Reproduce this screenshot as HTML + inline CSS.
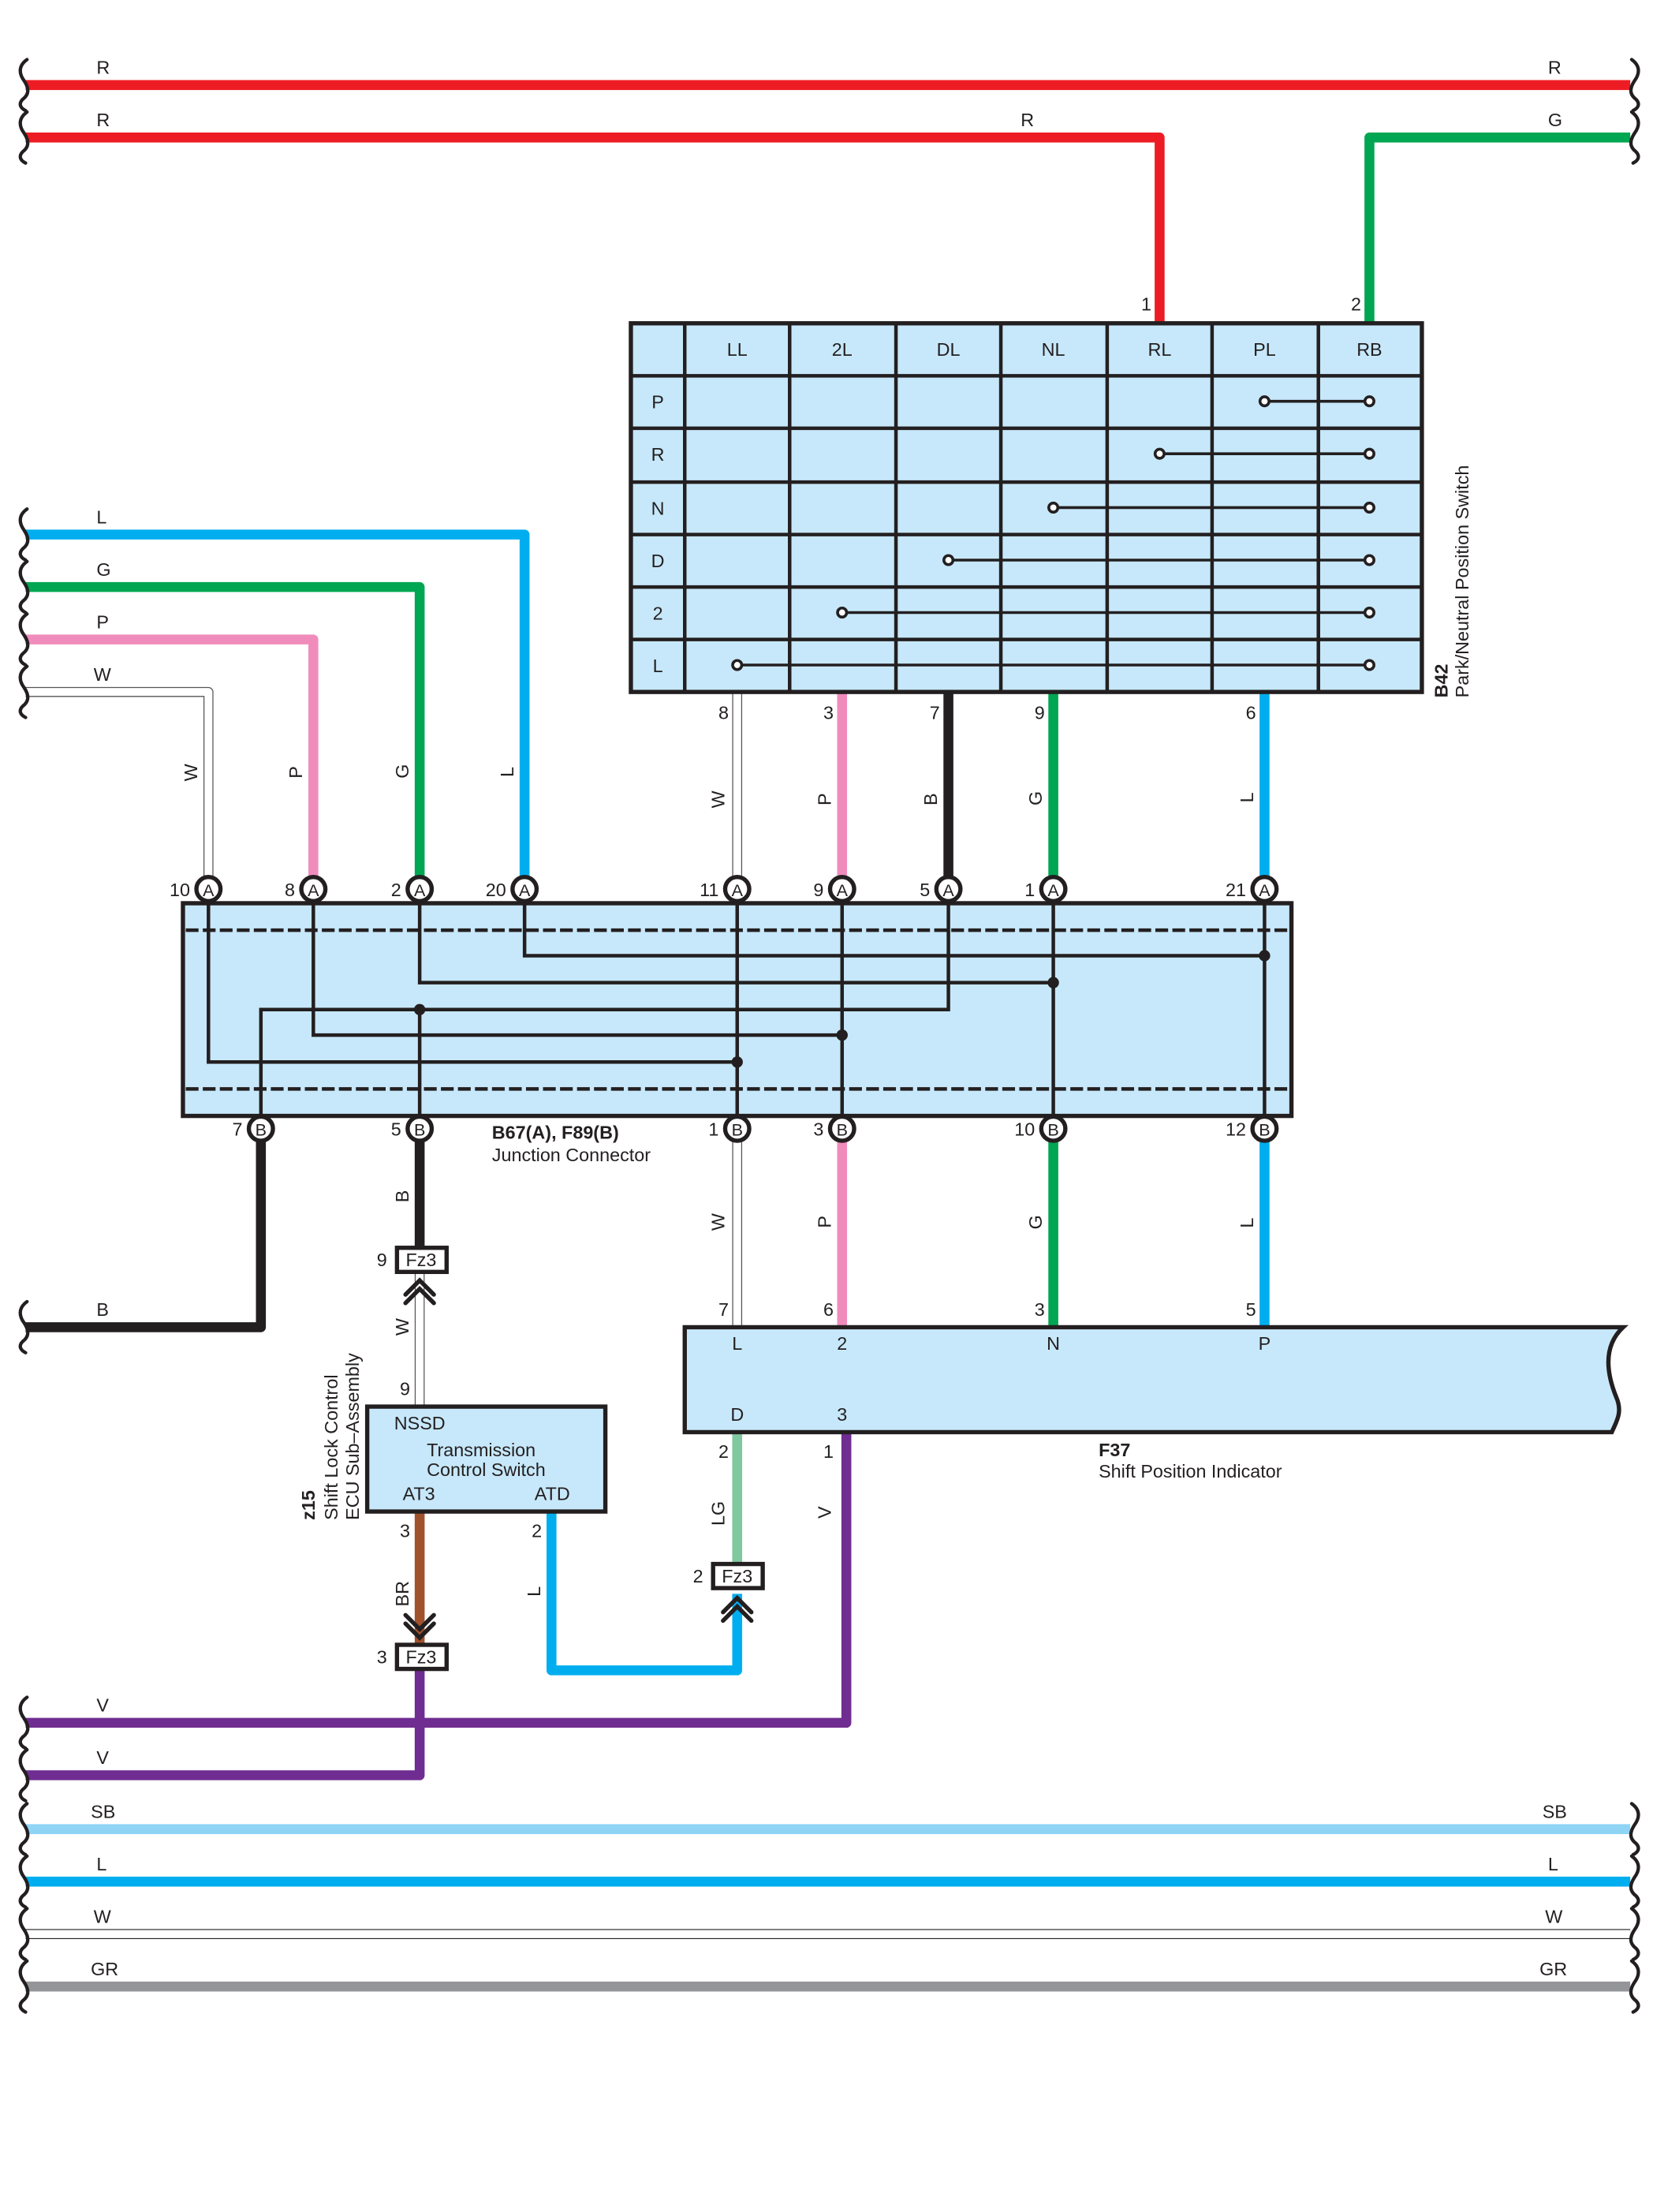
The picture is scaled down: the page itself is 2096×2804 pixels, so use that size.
<!DOCTYPE html>
<html><head><meta charset="utf-8"><style>
html,body{margin:0;padding:0;background:#fff}
svg{display:block}
text{font-family:"Liberation Sans",sans-serif;fill:#231f20}
</style></head><body>
<svg width="2096" height="2804" viewBox="0 0 1166 1560" xmlns="http://www.w3.org/2000/svg">
<rect width="1166" height="1560" fill="#fff"/>
<defs>
<g id="sq"><path d="M19,-18 C12,-13 14,-7 17,-3 C21,3 20,7 16,10 C13,13 14,16 18,18" fill="none" stroke="#231f20" stroke-width="2.4" stroke-linecap="round"/></g>
<g id="sqr"><path d="M1151,-18 C1158,-13 1156,-7 1153,-3 C1149,3 1150,7 1154,10 C1157,13 1156,16 1152,18" fill="none" stroke="#231f20" stroke-width="2.4" stroke-linecap="round"/></g>
</defs>
<g fill="none" stroke-linejoin="round">
<!-- top wires -->
<path d="M18,60 H1150" stroke="#ed1c24" stroke-width="7"/>
<path d="M18,97 H818 V228" stroke="#ed1c24" stroke-width="7"/>
<path d="M1150,97 H966 V228" stroke="#00a651" stroke-width="7"/>
<!-- left wires -->
<path d="M18,377 H370 V627" stroke="#00aeef" stroke-width="7"/>
<path d="M18,414 H296 V627" stroke="#00a651" stroke-width="7"/>
<path d="M18,451 H221 V627" stroke="#f08cbc" stroke-width="7"/>
<path d="M18,488 H147 V627" stroke="#555" stroke-width="7"/>
<path d="M18,488 H147 V627" stroke="#fff" stroke-width="5.6"/>
<!-- switch to JC -->
<path d="M520,488 V627" stroke="#555" stroke-width="7"/><path d="M520,488 V627" stroke="#fff" stroke-width="5.6"/>
<path d="M594,488 V627" stroke="#f08cbc" stroke-width="7"/>
<path d="M669,488 V627" stroke="#231f20" stroke-width="7"/>
<path d="M743,488 V627" stroke="#00a651" stroke-width="7"/>
<path d="M892,488 V627" stroke="#00aeef" stroke-width="7"/>
<!-- JC bottom -->
<path d="M184,796 V936 H18" stroke="#231f20" stroke-width="7"/>
<path d="M296,796 V880" stroke="#231f20" stroke-width="7"/>
<path d="M296,897 V992" stroke="#555" stroke-width="7"/><path d="M296,897 V992" stroke="#fff" stroke-width="5.6"/>
<path d="M520,796 V936" stroke="#555" stroke-width="7"/><path d="M520,796 V936" stroke="#fff" stroke-width="5.6"/>
<path d="M594,796 V936" stroke="#f08cbc" stroke-width="7"/>
<path d="M743,796 V936" stroke="#00a651" stroke-width="7"/>
<path d="M892,796 V936" stroke="#00aeef" stroke-width="7"/>
<!-- lower -->
<path d="M296,1066 V1160" stroke="#a0522d" stroke-width="7"/>
<path d="M296,1177 V1252 H18" stroke="#702d91" stroke-width="7"/>
<path d="M18,1215 H597 V1010" stroke="#702d91" stroke-width="7"/>
<path d="M389,1066 V1178 H520 V1124" stroke="#00aeef" stroke-width="7"/>
<path d="M520,1010 V1103" stroke="#80c8a0" stroke-width="7"/>
<!-- buses -->
<path d="M18,1290 H1150" stroke="#8fd4f5" stroke-width="7"/>
<path d="M18,1327 H1150" stroke="#00aeef" stroke-width="7"/>
<path d="M18,1364 H1150" stroke="#222" stroke-width="7"/><path d="M18,1364 H1150" stroke="#fff" stroke-width="5.8"/>
<path d="M18,1401 H1150" stroke="#939598" stroke-width="7"/>
</g>
<!-- squiggles -->
<use href="#sq" transform="translate(0,60)"/><use href="#sq" transform="translate(0,97)"/>
<use href="#sqr" transform="translate(0,60)"/><use href="#sqr" transform="translate(0,97)"/>
<use href="#sq" transform="translate(0,377)"/><use href="#sq" transform="translate(0,414)"/><use href="#sq" transform="translate(0,451)"/><use href="#sq" transform="translate(0,488)"/>
<use href="#sq" transform="translate(0,936)"/><use href="#sq" transform="translate(0,1215)"/><use href="#sq" transform="translate(0,1252)"/>
<use href="#sq" transform="translate(0,1290)"/><use href="#sq" transform="translate(0,1327)"/><use href="#sq" transform="translate(0,1364)"/><use href="#sq" transform="translate(0,1401)"/>
<use href="#sqr" transform="translate(0,1290)"/><use href="#sqr" transform="translate(0,1327)"/><use href="#sqr" transform="translate(0,1364)"/><use href="#sqr" transform="translate(0,1401)"/>
<!-- top labels -->
<g font-size="13">
<text x="68" y="52">R</text><text x="1092" y="52">R</text>
<text x="68" y="89">R</text><text x="720" y="89">R</text><text x="1092" y="89">G</text>
<text x="805" y="219">1</text><text x="953" y="219">2</text>
<text x="68" y="369">L</text><text x="68" y="406">G</text><text x="68" y="443">P</text><text x="66" y="480">W</text>
<text x="68" y="928">B</text>
<text x="68" y="1207">V</text><text x="68" y="1244">V</text>
<text x="64" y="1282">SB</text><text x="1088" y="1282">SB</text>
<text x="68" y="1319">L</text><text x="1092" y="1319">L</text>
<text x="66" y="1356">W</text><text x="1090" y="1356">W</text>
<text x="64" y="1393">GR</text><text x="1086" y="1393">GR</text>
</g>
<!-- switch table -->
<rect x="445" y="228" width="558" height="260" fill="#c7e8fa" stroke="#231f20" stroke-width="3"/>
<g stroke="#231f20" stroke-width="2.5">
<line x1="483" y1="228" x2="483" y2="488"/><line x1="557" y1="228" x2="557" y2="488"/><line x1="632" y1="228" x2="632" y2="488"/><line x1="706" y1="228" x2="706" y2="488"/><line x1="781" y1="228" x2="781" y2="488"/><line x1="855" y1="228" x2="855" y2="488"/><line x1="930" y1="228" x2="930" y2="488"/>
<line x1="445" y1="265" x2="1003" y2="265"/><line x1="445" y1="302" x2="1003" y2="302"/><line x1="445" y1="340" x2="1003" y2="340"/><line x1="445" y1="377" x2="1003" y2="377"/><line x1="445" y1="414" x2="1003" y2="414"/><line x1="445" y1="451" x2="1003" y2="451"/>
</g>
<g stroke="#231f20" stroke-width="2" fill="#fff">
<line x1="892" y1="283" x2="966" y2="283"/><line x1="818" y1="320" x2="966" y2="320"/><line x1="743" y1="358" x2="966" y2="358"/><line x1="669" y1="395" x2="966" y2="395"/><line x1="594" y1="432" x2="966" y2="432"/><line x1="520" y1="469" x2="966" y2="469"/>
<circle cx="892" cy="283" r="3.2"/><circle cx="966" cy="283" r="3.2"/>
<circle cx="818" cy="320" r="3.2"/><circle cx="966" cy="320" r="3.2"/>
<circle cx="743" cy="358" r="3.2"/><circle cx="966" cy="358" r="3.2"/>
<circle cx="669" cy="395" r="3.2"/><circle cx="966" cy="395" r="3.2"/>
<circle cx="594" cy="432" r="3.2"/><circle cx="966" cy="432" r="3.2"/>
<circle cx="520" cy="469" r="3.2"/><circle cx="966" cy="469" r="3.2"/>
</g>
<g font-size="13" text-anchor="middle">
<text x="520" y="251">LL</text><text x="594" y="251">2L</text><text x="669" y="251">DL</text><text x="743" y="251">NL</text><text x="818" y="251">RL</text><text x="892" y="251">PL</text><text x="966" y="251">RB</text>
<text x="464" y="288">P</text><text x="464" y="325">R</text><text x="464" y="363">N</text><text x="464" y="400">D</text><text x="464" y="437">2</text><text x="464" y="474">L</text>
</g>
<g font-size="13" text-anchor="end">
<text x="514" y="507">8</text><text x="588" y="507">3</text><text x="663" y="507">7</text><text x="737" y="507">9</text><text x="886" y="507">6</text>
</g>
<text transform="translate(1021,492) rotate(-90)" font-size="13" font-weight="bold">B42</text>
<text transform="translate(1036,492) rotate(-90)" font-size="13">Park/Neutral Position Switch</text>
<!-- rotated wire labels -->
<g font-size="13">
<text transform="translate(139,551) rotate(-90)">W</text>
<text transform="translate(213,549) rotate(-90)">P</text>
<text transform="translate(288,549) rotate(-90)">G</text>
<text transform="translate(362,548) rotate(-90)">L</text>
<text transform="translate(511,570) rotate(-90)">W</text>
<text transform="translate(586,568) rotate(-90)">P</text>
<text transform="translate(661,568) rotate(-90)">B</text>
<text transform="translate(735,568) rotate(-90)">G</text>
<text transform="translate(884,566) rotate(-90)">L</text>
<text transform="translate(288,848) rotate(-90)">B</text>
<text transform="translate(511,868) rotate(-90)">W</text>
<text transform="translate(586,866) rotate(-90)">P</text>
<text transform="translate(735,867) rotate(-90)">G</text>
<text transform="translate(884,866) rotate(-90)">L</text>
<text transform="translate(288,942) rotate(-90)">W</text>
<text transform="translate(288,1133) rotate(-90)">BR</text>
<text transform="translate(381,1126) rotate(-90)">L</text>
<text transform="translate(511,1076) rotate(-90)">LG</text>
<text transform="translate(586,1071) rotate(-90)">V</text>
</g>
<!-- junction connector -->
<rect x="129" y="637" width="782" height="150" fill="#c7e8fa" stroke="#231f20" stroke-width="3"/>
<g stroke="#231f20" stroke-width="2.5" fill="none">
<line x1="131" y1="656" x2="909" y2="656" stroke-dasharray="9,3"/>
<line x1="131" y1="768" x2="909" y2="768" stroke-dasharray="9,3"/>
<path d="M370,627 V674 H892"/><path d="M892,627 V796"/>
<path d="M296,627 V693 H743"/><path d="M743,627 V796"/>
<path d="M669,627 V712 H184 V796"/><path d="M296,712 V796"/>
<path d="M221,627 V730 H594"/><path d="M594,627 V796"/>
<path d="M147,627 V749 H520"/><path d="M520,627 V796"/>
</g>
<g fill="#231f20"><circle cx="892" cy="674" r="4"/><circle cx="743" cy="693" r="4"/><circle cx="296" cy="712" r="4"/><circle cx="594" cy="730" r="4"/><circle cx="520" cy="749" r="4"/></g>
<!-- pins -->
<g stroke="#231f20" stroke-width="3" fill="#fff">
<circle cx="147" cy="627" r="8.5"/><circle cx="221" cy="627" r="8.5"/><circle cx="296" cy="627" r="8.5"/><circle cx="370" cy="627" r="8.5"/><circle cx="520" cy="627" r="8.5"/><circle cx="594" cy="627" r="8.5"/><circle cx="669" cy="627" r="8.5"/><circle cx="743" cy="627" r="8.5"/><circle cx="892" cy="627" r="8.5"/>
<circle cx="184" cy="796" r="8.5"/><circle cx="296" cy="796" r="8.5"/><circle cx="520" cy="796" r="8.5"/><circle cx="594" cy="796" r="8.5"/><circle cx="743" cy="796" r="8.5"/><circle cx="892" cy="796" r="8.5"/>
</g>
<g font-size="12" text-anchor="middle">
<text x="147" y="632">A</text><text x="221" y="632">A</text><text x="296" y="632">A</text><text x="370" y="632">A</text><text x="520" y="632">A</text><text x="594" y="632">A</text><text x="669" y="632">A</text><text x="743" y="632">A</text><text x="892" y="632">A</text>
<text x="184" y="801">B</text><text x="296" y="801">B</text><text x="520" y="801">B</text><text x="594" y="801">B</text><text x="743" y="801">B</text><text x="892" y="801">B</text>
</g>
<g font-size="13" text-anchor="end">
<text x="134" y="632">10</text><text x="208" y="632">8</text><text x="283" y="632">2</text><text x="357" y="632">20</text><text x="507" y="632">11</text><text x="581" y="632">9</text><text x="656" y="632">5</text><text x="730" y="632">1</text><text x="879" y="632">21</text>
<text x="171" y="801">7</text><text x="283" y="801">5</text><text x="507" y="801">1</text><text x="581" y="801">3</text><text x="730" y="801">10</text><text x="879" y="801">12</text>
</g>
<text x="347" y="803" font-size="13" font-weight="bold">B67(A), F89(B)</text>
<text x="347" y="819" font-size="13">Junction Connector</text>
<!-- Fz3 connectors -->
<g stroke="#231f20" stroke-width="3" fill="#fff">
<rect x="280" y="880" width="35" height="17"/>
<rect x="280" y="1160" width="35" height="17"/>
<rect x="503" y="1103" width="35" height="17"/>
</g>
<g font-size="13" text-anchor="middle"><text x="297" y="893">Fz3</text><text x="297" y="1173">Fz3</text><text x="520" y="1116">Fz3</text></g>
<g font-size="13" text-anchor="end"><text x="273" y="893">9</text><text x="273" y="1173">3</text><text x="496" y="1116">2</text></g>
<g stroke="#231f20" stroke-width="3" fill="none" stroke-linecap="round">
<path d="M286,913 L296,903 L306,913 M286,919 L296,909 L306,919"/>
<path d="M286,1145 L296,1155 L306,1145 M286,1139 L296,1149 L306,1139"/>
<path d="M510,1137 L520,1127 L530,1137 M510,1143 L520,1133 L530,1143"/>
</g>
<!-- z15 -->
<rect x="259" y="992" width="168" height="74" fill="#c7e8fa" stroke="#231f20" stroke-width="3"/>
<g font-size="13">
<text x="278" y="1008">NSSD</text>
<text x="301" y="1027">Transmission</text>
<text x="301" y="1041">Control Switch</text>
<text x="284" y="1058">AT3</text><text x="377" y="1058">ATD</text>
<text x="282" y="984">9</text><text x="282" y="1084">3</text><text x="375" y="1084">2</text>
</g>
<text transform="translate(222,1072) rotate(-90)" font-size="13" font-weight="bold">z15</text>
<text transform="translate(238,1072) rotate(-90)" font-size="13">Shift Lock Control</text>
<text transform="translate(253,1072) rotate(-90)" font-size="13">ECU Sub–Assembly</text>
<!-- F37 -->
<path d="M483,936 H1145 C1130,950 1134,970 1140,985 C1145,996 1140,1003 1137,1010 H483 Z" fill="#c7e8fa" stroke="#231f20" stroke-width="3"/>
<g font-size="13" text-anchor="middle">
<text x="520" y="952">L</text><text x="594" y="952">2</text><text x="743" y="952">N</text><text x="892" y="952">P</text>
<text x="520" y="1002">D</text><text x="594" y="1002">3</text>
</g>
<g font-size="13" text-anchor="end">
<text x="514" y="928">7</text><text x="588" y="928">6</text><text x="737" y="928">3</text><text x="886" y="928">5</text>
<text x="514" y="1028">2</text><text x="588" y="1028">1</text>
</g>
<text x="775" y="1027" font-size="13" font-weight="bold">F37</text>
<text x="775" y="1042" font-size="13">Shift Position Indicator</text>
</svg>
</body></html>
